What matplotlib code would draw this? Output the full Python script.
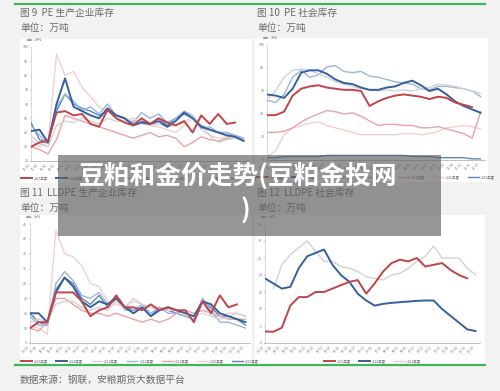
import numpy as np
import matplotlib
matplotlib.use("Agg")
import matplotlib.pyplot as plt
from matplotlib.patches import Rectangle
from matplotlib.lines import Line2D

plt.rcParams['font.family'] = ['Noto Sans CJK SC', 'DejaVu Sans']

nan = np.nan
weeks = list(range(0, 52, 2))
x_labels = ["01-04", "01-18", "02-01", "02-15", "03-01", "03-15", "03-29", "04-12",
            "04-26", "05-10", "05-24", "06-07", "06-21", "07-05", "07-19", "08-02",
            "08-16", "08-30", "09-13", "09-27", "10-11", "10-25", "11-08", "11-22",
            "12-06", "12-20"]
years = ["2025年度", "2024年度", "2023年度", "2022年度", "2021年度", "2020年度", "2019年度"]
colors = ["#c0444a", "#35609e", "#d2d2d2", "#9ab6dc", "#e9a3a5", "#f2d0d0", "#5f84c2"]
widths = [1.4, 1.4, 1.0, 1.0, 1.0, 1.0, 1.0]

# 图9 PE 生产企业库存
pe_prod = {
    "2025年度": [30, 33, 34, 54, 55, 52, 53, 46, 44, 56, 50, 47, 45, 50, 46, 50, 47, 45, 48, 40, 52, 46, 53, 46, 47, nan],
    "2024年度": [41, 42, 33, 60, 78, 58, 55, 52, 50, 57, 52, 50, 45, 47, 46, 48, 44, 48, 54, 50, 44, 42, 40, 38, 37, 34],
    "2023年度": [38, 32, 30, 45, 48, 47, 50, 48, 46, 50, 48, 48, 50, 47, 45, 46, 44, 45, 47, 52, 45, 38, 33, 35, 36, 35],
    "2022年度": [45, 38, 32, 58, 67, 62, 55, 58, 53, 60, 52, 50, 47, 54, 50, 53, 47, 50, 55, 52, 43, 44, 40, 40, 38, 36],
    "2021年度": [30, 28, 25, 35, 52, 50, 48, 46, 44, 42, 40, 38, 36, 38, 40, 37, 38, 36, 30, 33, 37, 35, 34, 36, 36, 35],
    "2020年度": [35, 30, 33, 95, 80, 83, 72, 65, 58, 55, 53, 50, 48, 46, 45, 44, 42, 40, 45, 50, 42, 38, 36, 37, 38, 36],
    "2019年度": [47, 35, 33, 55, 67, 60, 57, 55, 52, 55, 52, 50, 46, 48, 46, 50, 45, 50, 53, 50, 45, 42, 40, 40, 37, 35],
}
# 图10 PE 社会库存
pe_social = {
    "2025年度": [39, 39, 42, 56, 62, 64, 65, 63, 62, 61, 61, 60, 47, 51, 54, 56, 57, 56, 55, 53, 55, 54, 50, 48, 46, nan],
    "2024年度": [57, 56, 54, 62, 76, 78, 78, 75, 70, 67, 66, 63, 61, 61, 63, 64, 67, 69, 65, 60, 62, 57, 51, 47, 44, 41],
    "2023年度": [53, 60, 72, 78, 79, 78, 75, 72, 68, 66, 64, 62, 61, 60, 61, 60, 61, 60, 62, 63, 66, 65, 64, 62, 60, 58],
    "2022年度": [52, 50, 57, 72, 78, 72, 74, 81, 82, 77, 76, 77, 73, 72, 70, 68, 67, 66, 62, 61, 64, 64, 63, 62, 60, 55],
    "2021年度": [24, 24, 25, 28, 33, 37, 40, 43, 42, 40, 41, 38, 34, 30, 31, 31, 30, 30, 28, 28, 29, 27, 25, 23, 19, 42],
    "2020年度": [3, 8, 22, 28, 30, 32, 33, 30, 28, 26, 24, 22, 22, 22, 22, 22, 23, 23, 22, 23, 25, 28, 29, 30, 29, 27],
    "2019年度": [2, 2, 3, 3, 3, 3, 3, 4, 4, 4, 4, 4, 4, 4, 4, 4, 4, 3, 3, 3, 2, 2, 2, 2, 1, 1],
}
# 图11 LLDPE 生产企业库存
ll_prod = {
    "2025年度": [10, 12, 12, 22, 22, 22, 19, 14, 16, 17, 21, 17, 17, 16, 18, 16, 17, 16, 16, 12, 19, 15, 21, 17, 18, nan],
    "2024年度": [15, 15, 12, 22, 27, 24, 19, 17, 19, 18, 20, 17, 15, 17, 14, 16, 17, 16, 15, 14, 19, 18, 15, 14, 13, 12],
    "2023年度": [12, 13, 12, 18, 19, 19, 17, 16, 17, 16, 19, 17, 20, 18, 17, 16, 17, 16, 15, 14, 19, 14, 13, 14, 15, 14],
    "2022年度": [14, 11, 11, 25, 29, 26, 21, 20, 22, 18, 21, 16, 16, 18, 15, 17, 15, 15, 14, 13, 20, 16, 12, 12, 11, 10],
    "2021年度": [10, 9, 12, 20, 20, 18, 16, 15, 15, 14, 15, 14, 13, 12, 13, 12, 13, 15, 16, 15, 16, 15, 14, 13, 13, 13],
    "2020年度": [11, 10, 8, 43, 35, 34, 31, 25, 24, 19, 18, 17, 19, 18, 17, 17, 16, 16, 15, 14, 15, 14, 14, 15, 15, 14],
    "2019年度": [15, 12, 11, 23, 27, 25, 20, 18, 21, 17, 20, 17, 16, 17, 14, 17, 16, 15, 14, 13, 19, 17, 14, 14, 13, 11],
}
# 图12 LLDPE 社会库存
ll_years = ["2025年度", "2024年度", "2023年度"]
ll_social = {
    "2025年度": [3.4, 3.3, 4.5, 11, 13.5, 13.5, 15, 15, 16, 17, 18, 18.5, 14.5, 17.5, 21, 23.5, 24.5, 24, 25, 22.5, 23, 23.5, 21.5, 20, 19, nan],
    "2024年度": [19, 17.5, 16, 16.5, 22, 25.5, 26.5, 27.5, 23, 20, 18, 14.5, 12.5, 11, 11.5, 11.8, 12, 12.2, 12.4, 12.5, 12.5, 10, 8, 6, 4, 3.5],
    "2023年度": [nan, 16, 23, 26, 28, 30, 27, 24, 24, 22.5, 22, 21, 19.5, 19, 18.5, 20, 20.5, 22, 24, 25.5, 28.5, 25, 25, 25, 22, 20],
}

W, H = 500, 391
fig = plt.figure(figsize=(W / 100, H / 100), dpi=100, facecolor="#f2f2f2")


def fr(x0, y0, x1, y1):
    return [x0 / W, 1 - y1 / H, (x1 - x0) / W, (y1 - y0) / H]


def panel(x0, y0, x1, y1):
    r = Rectangle((x0 / W, 1 - y1 / H), (x1 - x0) / W, (y1 - y0) / H,
                  transform=fig.transFigure, facecolor="white", edgecolor="none", zorder=-5)
    fig.patches.append(r)


def draw(box, data, names, ylim, yticks, legend_y):
    ax = fig.add_axes(fr(*box))
    ax.set_facecolor("none")
    order = list(range(len(names)))[::-1]
    for i in order:
        nm = names[i]
        ci = years.index(nm)
        ax.plot(weeks, data[nm], color=colors[ci], lw=widths[ci], zorder=10 - ci,
                solid_capstyle="round")
    ax.set_xlim(0, 51)
    ax.set_ylim(*ylim)
    ax.set_yticks(yticks)
    ax.set_xticks(weeks)
    ax.set_xticklabels(x_labels, rotation=45, ha="right", fontsize=2.3, color="#777777")
    ax.tick_params(axis="y", labelsize=2.6, colors="#777777", length=1, width=0.3, pad=1)
    ax.tick_params(axis="x", length=1, width=0.3, pad=0.5, colors="#777777")
    for s in ["top", "right"]:
        ax.spines[s].set_visible(False)
    ax.spines["left"].set_color("#bbbbbb")
    ax.spines["bottom"].set_color("#aaaaaa")
    ax.spines["left"].set_linewidth(0.4)
    ax.spines["bottom"].set_linewidth(0.5)
    ax.text(-0.02, 1.04, "单位：万吨", transform=ax.transAxes, fontsize=2.2, color="#888888",
            ha="left", va="bottom")
    handles = [Line2D([0], [0], color=colors[years.index(n)], lw=widths[years.index(n)]) for n in names]
    leg = fig.legend(handles, names, loc="center", bbox_to_anchor=((box[0] + box[2]) / 2 / W, 1 - legend_y / H),
                     ncol=len(names), fontsize=2.4, frameon=False, handlelength=3.2,
                     columnspacing=2.5, handletextpad=0.6, labelcolor="#666666")
    return ax


# background panels
panel(20, 39, 252, 183)
panel(255, 38, 488, 182)
panel(20, 215, 252, 365)
panel(255, 215, 485, 364)

# green rules
for yy in (4, 365):
    fig.add_artist(Line2D([15 / W, 485 / W], [1 - yy / H, 1 - yy / H], color="#3fb55c", lw=1.6,
                          transform=fig.transFigure, zorder=3))

tc = "#6a6a6a"
fig.text(20 / W, 1 - 13 / H, "图 9  PE 生产企业库存", fontsize=7, color=tc, va="center")
fig.text(20 / W, 1 - 28 / H, "单位：万吨", fontsize=7, color=tc, va="center")
fig.text(257 / W, 1 - 13 / H, "图 10  PE 社会库存", fontsize=7, color=tc, va="center")
fig.text(257 / W, 1 - 28 / H, "单位：万吨", fontsize=7, color=tc, va="center")
fig.text(20 / W, 1 - 193 / H, "图 11  LLDPE 生产企业库存", fontsize=7, color=tc, va="center")
fig.text(20 / W, 1 - 208 / H, "单位：万吨", fontsize=7, color=tc, va="center")
fig.text(257 / W, 1 - 193 / H, "图 12  LLDPE 社会库存", fontsize=7, color=tc, va="center")
fig.text(257 / W, 1 - 208 / H, "单位：万吨", fontsize=7, color=tc, va="center")
fig.text(20 / W, 1 - 380 / H, "数据来源：钢联，安粮期货大数据平台", fontsize=7, color=tc, va="center")

draw((31, 47, 248, 161), pe_prod, years, (20, 100), list(range(20, 101, 10)), 178)
draw((267, 45, 485, 160), pe_social, years, (0, 100), list(range(0, 101, 20)), 177)
draw((30, 224, 250, 343), ll_prod, years, (5, 45), list(range(5, 46, 5)), 361)
draw((265, 224, 480, 343), ll_social, ll_years, (0, 35), list(range(0, 36, 5)), 361)

# banner overlay
fig.patches.append(Rectangle((58 / W, 1 - 236 / H), (441 - 58) / W, (236 - 155) / H,
                             transform=fig.transFigure, facecolor="#5e5e5e", alpha=0.65,
                             edgecolor="none", zorder=20))
fig.text(238 / W, 1 - 176 / H, "豆粕和金价走势(豆粕金投网", fontsize=18.5, fontweight="bold",
         color="white", ha="center", va="center", zorder=21)
fig.text(245 / W, 1 - 211 / H, ")", fontsize=18.5, fontweight="bold",
         color="white", ha="center", va="center", zorder=21)

fig.savefig("out.png", dpi=100, facecolor=fig.get_facecolor())
